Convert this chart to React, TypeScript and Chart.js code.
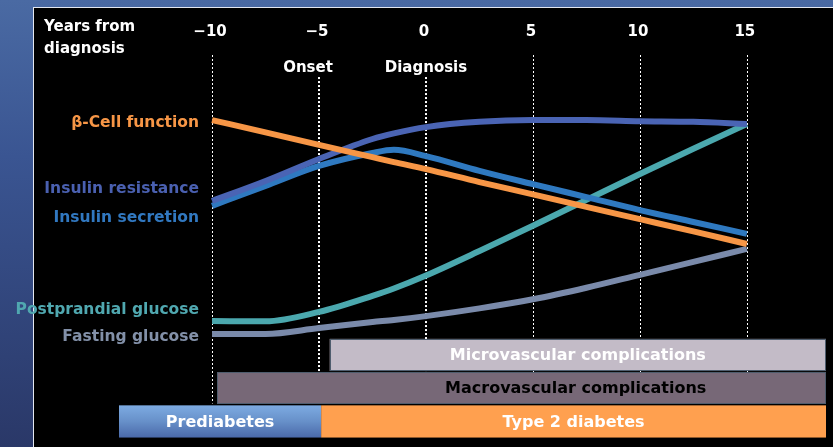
import React, { useEffect, useRef } from "react";
import { Chart, registerables } from "chart.js";

Chart.register(...registerables);

// Years from diagnosis at which each curve is sampled
const years = [-10, -7.5, -5, -2.5, -1.5, 0, 2.5, 5, 7.5, 10, 12.5, 15];

// Relative level of each process (arbitrary units)
const betaCellFunction = [81.4, 77.9, 74.3, 70.8, 69.4, 67.4, 63.7, 60.2, 56.6, 53.1, 49.6, 46.0];
const insulinResistance = [58.3, 64.0, 70.3, 76.0, 77.6, 79.4, 80.9, 81.4, 81.4, 81.1, 80.9, 80.3];
const insulinSecretion = [56.9, 62.6, 68.3, 72.0, 72.9, 71.1, 66.9, 63.1, 59.4, 55.7, 52.3, 48.9];
const postprandialGlucose = [24.0, 23.9, 26.6, 31.2, 33.3, 37.0, 44.0, 51.2, 58.6, 66.0, 73.2, 80.3];
const fastingGlucose = [20.3, 20.3, 22.0, 23.7, 24.3, 25.4, 27.6, 30.2, 33.5, 37.2, 40.9, 44.6];

const seriesNames = [
  "β-Cell function",
  "Insulin resistance",
  "Insulin secretion",
  "Postprandial glucose",
  "Fasting glucose",
];

// Year ticks along the top
const tickYears = [-10, -5, 0, 5, 10, 15];
const tickLabels = ["−10", "−5", "0", "5", "10", "15"];

// Milestones
const eventYears = [-5, 0];
const eventNames = ["Onset", "Diagnosis"];

// Complication periods (years)
const complicationNames = ["Microvascular complications", "Macrovascular complications"];
const complicationStart = [-4.5, -9.75];
const complicationEnd = [18.7, 18.7];

// Disease stages (years)
const stageNames = ["Prediabetes", "Type 2 diabetes"];
const stageStart = [-14.35, -4.9];
const stageEnd = [-4.9, 18.7];

const FONT = '"DejaVu Sans", "Open Sans", sans-serif';
const lineColors = ["#f79646", "#4a64b4", "#2f79c0", "#4ba8ae", "#7a8aaa"];
const labelColors = ["#f79646", "#4a60b0", "#3178c0", "#50a8b0", "#8290a8"];
const labelPixelY = [123, 189, 218, 310, 337];

const overlay = {
  id: "overlay",
  beforeDatasetsDraw(chart: any) {
    const { ctx } = chart;
    const x = chart.scales.x;
    const y = chart.scales.y;
    ctx.save();

    // dotted year guides
    ctx.strokeStyle = "#ffffff";
    ctx.setLineDash([2, 2]);
    tickYears.forEach((yr) => {
      const isEvent = eventYears.includes(yr);
      ctx.lineWidth = isEvent ? 2 : 1;
      const px = Math.round(x.getPixelForValue(yr)) + (isEvent ? 0 : 0.5);
      const top = isEvent ? y.getPixelForValue(93.7) : y.getPixelForValue(100);
      ctx.beginPath();
      ctx.moveTo(px, top);
      ctx.lineTo(px, y.getPixelForValue(0.4));
      ctx.stroke();
    });
    ctx.setLineDash([]);

    // complication bands
    const compRows = [
      [18.9, 9.7],
      [9.4, 0.4],
    ];
    const compFill = ["#c3bbc7", "#776877"];
    const compText = ["#ffffff", "#000000"];
    const compTextAt = [7.1, 7.0];
    complicationNames.forEach((name, i) => {
      const x0 = x.getPixelForValue(complicationStart[i]);
      const x1 = x.getPixelForValue(complicationEnd[i]);
      const y0 = y.getPixelForValue(compRows[i][0]);
      const y1 = y.getPixelForValue(compRows[i][1]);
      ctx.fillStyle = compFill[i];
      ctx.fillRect(x0, y0, x1 - x0, y1 - y0);
      ctx.strokeStyle = "#4f5d6e";
      ctx.lineWidth = 1;
      ctx.strokeRect(Math.round(x0) + 0.5, Math.round(y0) + 0.5, Math.round(x1 - x0) - 1, Math.round(y1 - y0) - 1);
      ctx.fillStyle = compText[i];
      ctx.font = `bold 16px ${FONT}`;
      ctx.textAlign = "center";
      ctx.textBaseline = "middle";
      ctx.fillText(name, x.getPixelForValue(compTextAt[i]), (y0 + y1) / 2 + 1);
    });

    // stage bands
    const sTop = y.getPixelForValue(-0.1);
    const sBot = y.getPixelForValue(-9.3);
    stageNames.forEach((name, i) => {
      const x0 = x.getPixelForValue(stageStart[i]);
      const x1 = x.getPixelForValue(stageEnd[i]);
      if (i === 0) {
        const g = ctx.createLinearGradient(0, sTop, 0, sBot);
        g.addColorStop(0, "#7dabe2");
        g.addColorStop(0.5, "#6790c9");
        g.addColorStop(1, "#4a69a9");
        ctx.fillStyle = g;
      } else {
        ctx.fillStyle = "#ffa04f";
      }
      ctx.fillRect(x0, sTop, x1 - x0, sBot - sTop);
      ctx.fillStyle = "#ffffff";
      ctx.font = `bold 16px ${FONT}`;
      ctx.textAlign = "center";
      ctx.textBaseline = "middle";
      ctx.fillText(name, (x0 + x1) / 2, (sTop + sBot) / 2 + 1);
    });

    // year ticks along the top
    ctx.fillStyle = "#ffffff";
    ctx.font = `bold 15px ${FONT}`;
    ctx.textAlign = "center";
    ctx.textBaseline = "middle";
    tickYears.forEach((yr, i) => {
      ctx.fillText(tickLabels[i], x.getPixelForValue(yr) - 2, 32);
    });

    // axis title
    ctx.textAlign = "left";
    ctx.fillText("Years from", 44, 27);
    ctx.fillText("diagnosis", 44, 49);

    // milestone names
    ctx.textAlign = "center";
    const eventShift = [-11, 0];
    eventYears.forEach((yr, i) => {
      ctx.fillText(eventNames[i], x.getPixelForValue(yr) + eventShift[i], 68);
    });

    // series names on the left
    ctx.font = `bold 15.5px ${FONT}`;
    ctx.textAlign = "right";
    seriesNames.forEach((name, i) => {
      ctx.fillStyle = labelColors[i];
      ctx.fillText(name, 199, labelPixelY[i]);
    });

    ctx.restore();
  },
};

export default function App() {
  const canvasRef = useRef<HTMLCanvasElement>(null);

  useEffect(() => {
    const canvas = canvasRef.current;
    if (!canvas) return;
    const seriesValues = [
      betaCellFunction,
      insulinResistance,
      insulinSecretion,
      postprandialGlucose,
      fastingGlucose,
    ];
    const chart = new Chart(canvas, {
      type: "line",
      data: {
        datasets: seriesValues.map((vals, i) => ({
          label: seriesNames[i],
          data: vals.map((v, j) => ({ x: years[j], y: v })),
          borderColor: lineColors[i],
          backgroundColor: lineColors[i],
          borderWidth: 6,
          pointRadius: 0,
          fill: false,
          cubicInterpolationMode: "monotone" as const,
        })),
      },
      options: {
        responsive: false,
        devicePixelRatio: 1,
        animation: false,
        layout: { padding: { left: 119, right: 7, top: 55, bottom: 7 } },
        scales: {
          x: { type: "linear", min: -14.35, max: 18.7, display: false },
          y: { type: "linear", min: -10, max: 100, display: false },
        },
        plugins: {
          legend: { display: false },
          tooltip: { enabled: false },
        },
      },
      plugins: [overlay],
    });
    return () => chart.destroy();
  }, []);

  return (
    <div
      style={{
        position: "absolute",
        left: 0,
        top: 0,
        width: 833,
        height: 447,
        overflow: "hidden",
        background: "linear-gradient(180deg, #4a6aa3 0%, #3a5592 35%, #2a3868 100%)",
      }}
    >
      <div
        style={{
          position: "absolute",
          left: 33,
          top: 7,
          right: 0,
          bottom: 0,
          background: "#000000",
          borderLeft: "1px solid #e4e8f0",
          borderTop: "1px solid #e4e8f0",
        }}
      />
      <canvas
        ref={canvasRef}
        width={833}
        height={447}
        style={{ position: "absolute", left: 0, top: 0, width: 833, height: 447 }}
      />
    </div>
  );
}
